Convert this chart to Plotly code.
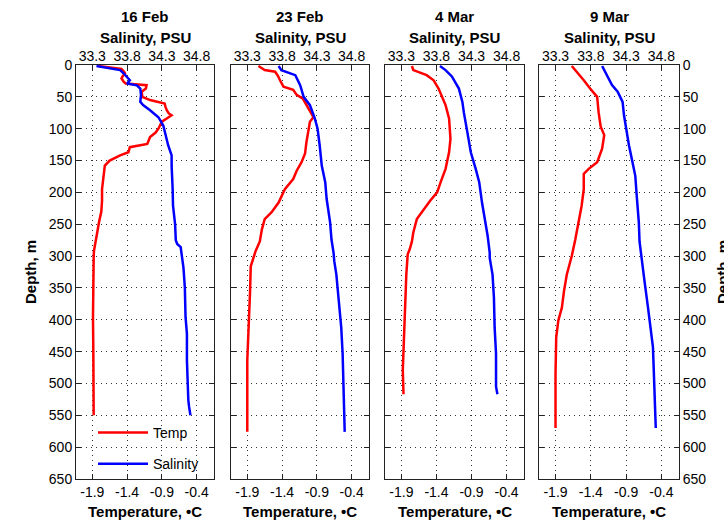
import plotly.graph_objects as go

dates = ["16 Feb", "23 Feb", "4 Mar", "9 Mar"]
temp_ticks = [-1.9, -1.4, -0.9, -0.4]
sal_ticks = [33.3, 33.8, 34.3, 34.8]
depth_ticks = list(range(0, 651, 50))

# 16 Feb
feb16_temp_depth = [1.6, 4, 6.3, 10, 13, 17, 21, 26, 29, 31.6, 36.8, 42, 47, 50, 55, 60.5, 65, 71, 76, 79, 84, 89,
                    100, 106, 113, 124, 129, 137, 142, 150, 158, 174, 195, 213, 230, 245, 265, 292, 302, 350, 396,
                    450, 500, 550]
feb16_temp = [-1.81, -1.60, -1.48, -1.45, -1.43, -1.46, -1.48, -1.45, -1.42, -1.12, -1.13, -1.19, -1.19, -1.18,
              -1.07, -0.86, -0.85, -0.83, -0.80, -0.76, -0.83, -0.90, -0.95, -0.99, -1.07, -1.11, -1.36, -1.38,
              -1.50, -1.65, -1.72, -1.74, -1.76, -1.76, -1.77, -1.80, -1.83, -1.876, -1.88, -1.89, -1.89, -1.885,
              -1.88, -1.88]
feb16_sal_depth = [1.6, 4, 8, 13, 18, 24, 29, 32, 37, 47, 58, 63, 71, 82, 95, 105, 126, 142, 158, 195, 221, 250,
                   275, 281, 286, 318, 349, 396, 422, 464, 505, 526, 536, 547, 550]
feb16_sal = [33.36, 33.51, 33.70, 33.75, 33.79, 33.84, 33.80, 33.94, 33.99, 34.00, 33.99, 34.03, 34.13, 34.25,
             34.32, 34.34, 34.39, 34.44, 34.44, 34.455, 34.46, 34.49, 34.50, 34.52, 34.57, 34.61, 34.63, 34.64,
             34.66, 34.66, 34.67, 34.68, 34.69, 34.71, 34.71]

# 23 Feb
feb23_temp_depth = [1.6, 8, 10.5, 17, 24, 34, 39, 47, 53, 63, 74, 82, 89, 100, 121, 139, 152.5, 166, 179, 195, 205,
                    216, 231, 242, 258, 277, 292, 303, 316, 355, 407, 464, 576]
feb23_temp = [-1.74, -1.65, -1.50, -1.46, -1.43, -1.38, -1.24, -1.19, -1.10, -1.05, -1.00, -0.95, -1.00, -1.02,
              -1.05, -1.07, -1.12, -1.19, -1.24, -1.36, -1.40, -1.45, -1.55, -1.65, -1.69, -1.72, -1.78, -1.81,
              -1.85, -1.86, -1.88, -1.90, -1.90]
feb23_sal_depth = [1.6, 8, 16, 24, 31.6, 50, 63, 84, 100, 126, 158, 184, 210, 247, 274, 295, 308, 329, 365, 412,
                   453, 495, 526, 576]
feb23_sal = [33.75, 33.79, 33.99, 34.03, 34.06, 34.11, 34.20, 34.27, 34.31, 34.34, 34.37, 34.42, 34.44, 34.49,
             34.51, 34.54, 34.55, 34.58, 34.61, 34.65, 34.67, 34.68, 34.69, 34.70]

# 4 Mar
mar4_temp_depth = [1.6, 8, 16, 24, 37, 50, 63, 84, 116, 137, 163, 184, 200, 213, 226, 242, 263, 277, 289, 297, 329,
                   381, 433, 479, 517]
mar4_temp = [-1.75, -1.73, -1.54, -1.44, -1.37, -1.32, -1.27, -1.22, -1.20, -1.22, -1.27, -1.34, -1.39, -1.49,
             -1.58, -1.68, -1.73, -1.75, -1.78, -1.81, -1.83, -1.85, -1.86, -1.88, -1.87]
mar4_sal_depth = [1.6, 8, 18, 37, 58, 74, 105, 137, 163, 184, 216, 247, 268, 295, 303, 329, 365, 412, 453, 505, 517]
mar4_sal = [33.85, 33.93, 34.02, 34.12, 34.17, 34.19, 34.24, 34.29, 34.36, 34.41, 34.45, 34.50, 34.53, 34.56,
            34.56, 34.60, 34.62, 34.63, 34.65, 34.65, 34.67]

# 9 Mar
mar9_temp_depth = [1.6, 10.5, 24, 37, 50, 74, 97, 110, 131.5, 152.5, 163, 171, 195, 221, 247, 274, 300, 329, 355,
                   381, 401, 427, 485, 570]
mar9_temp = [-1.67, -1.60, -1.50, -1.41, -1.31, -1.29, -1.26, -1.21, -1.24, -1.31, -1.43, -1.50, -1.50, -1.53,
             -1.57, -1.62, -1.67, -1.74, -1.78, -1.81, -1.86, -1.89, -1.90, -1.90]
mar9_sal_depth = [1.6, 16, 31.6, 42, 58, 79, 100, 126, 152.5, 174, 205, 247, 277, 308, 339, 381, 412, 443, 474, 505,
                  542, 570]
mar9_sal = [33.96, 34.03, 34.10, 34.18, 34.25, 34.27, 34.30, 34.34, 34.39, 34.43, 34.45, 34.48, 34.49, 34.53,
            34.56, 34.61, 34.64, 34.68, 34.69, 34.70, 34.72, 34.72]

temp_sets = [(feb16_temp_depth, feb16_temp), (feb23_temp_depth, feb23_temp),
             (mar4_temp_depth, mar4_temp), (mar9_temp_depth, mar9_temp)]
sal_sets = [(feb16_sal_depth, feb16_sal), (feb23_sal_depth, feb23_sal),
            (mar4_sal_depth, mar4_sal), (mar9_sal_depth, mar9_sal)]

W, H = 724, 522
ML, MR, MT, MB = 76, 45, 65, 43
PW = W - ML - MR
PH = H - MT - MB
panel_px = [(76, 214), (231, 369), (385, 524), (539, 679)]
temp_range = [-2.134, -0.151]
sal_offset = 35.2
sal_range = [temp_range[0] + sal_offset, temp_range[1] + sal_offset]

FONT = "Liberation Sans, Arial, sans-serif"
AX = "#222222"
GRID = "#333333"

fig = go.Figure()
layout = dict(
    width=W, height=H,
    margin=dict(l=ML, r=MR, t=MT, b=MB, pad=0),
    paper_bgcolor="white", plot_bgcolor="white",
    font=dict(family=FONT, size=13, color="black"),
    showlegend=True,
    legend=dict(x=(93 - ML) / PW, y=(MT + PH - 417) / PH, xanchor="left", yanchor="top",
                bgcolor="rgba(0,0,0,0)", borderwidth=0, font=dict(size=14, family=FONT),
                itemwidth=50, traceorder="grouped", tracegroupgap=10),
)
annotations = []
for i in range(4):
    n = i + 1
    sx = "" if n == 1 else str(n)
    d0 = (panel_px[i][0] - ML) / PW
    d1 = (panel_px[i][1] - ML) / PW
    tdepth, tvals = temp_sets[i]
    sdepth, svals = sal_sets[i]
    fig.add_trace(go.Scatter(x=tvals, y=tdepth, mode="lines", name="Temp",
                             line=dict(color="#ff0000", width=2.5), xaxis="x" + sx, yaxis="y" + sx,
                             showlegend=(i == 0), legendgroup="t"))
    fig.add_trace(go.Scatter(x=svals, y=sdepth, mode="lines", name="Salinity",
                             line=dict(color="#0000ff", width=2.5), xaxis="x" + str(n + 4), yaxis="y" + sx,
                             showlegend=(i == 0), legendgroup="s"))
    layout["xaxis" + sx] = dict(
        domain=[d0, d1], anchor="y" + sx, range=temp_range, side="bottom",
        tickvals=temp_ticks, ticktext=[f"{v:.1f}" for v in temp_ticks],
        ticks="inside", ticklen=5, tickcolor=AX, mirror="ticks",
        showline=True, linecolor=AX, linewidth=1,
        showgrid=True, gridcolor=GRID, gridwidth=1, griddash="1px,4px",
        zeroline=False, tickfont=dict(size=14), fixedrange=True,
    )
    layout["xaxis" + str(n + 4)] = dict(
        overlaying="x" + sx, anchor="y" + sx, range=sal_range, side="top",
        tickvals=sal_ticks, ticktext=[f"{v:.1f}" for v in sal_ticks],
        ticks="", showgrid=False, zeroline=False, showline=False,
        tickfont=dict(size=14), fixedrange=True,
    )
    layout["yaxis" + sx] = dict(
        domain=[0, 1], anchor="x" + sx, range=[650, 0],
        tickvals=depth_ticks, ticks="inside", ticklen=5, tickcolor=AX, mirror="ticks",
        showline=True, linecolor=AX, linewidth=1,
        showgrid=True, gridcolor=GRID, gridwidth=1, griddash="1px,4px",
        zeroline=False, tickfont=dict(size=14), fixedrange=True,
        showticklabels=(i in (0, 3)), side=("right" if i == 3 else "left"),
    )
    cx = ((panel_px[i][0] + panel_px[i][1]) / 2 - ML) / PW
    annotations.append(dict(text="<b>" + dates[i] + "</b>", x=cx, y=1 + (MT - 17) / PH, xref="paper",
                            yref="paper", showarrow=False, xanchor="center", yanchor="middle",
                            font=dict(size=15)))
    annotations.append(dict(text="<b>Salinity, PSU</b>", x=cx, y=1 + (MT - 38) / PH, xref="paper",
                            yref="paper", showarrow=False, xanchor="center", yanchor="middle",
                            font=dict(size=15)))
    annotations.append(dict(text="<b>Temperature, •C</b>", x=cx, y=-(512 - (MT + PH)) / PH, xref="paper",
                            yref="paper", showarrow=False, xanchor="center", yanchor="middle",
                            font=dict(size=15)))

annotations.append(dict(text="<b>Depth, m</b>", x=(30 - ML) / PW, y=0.5, xref="paper", yref="paper",
                        showarrow=False, textangle=-90, xanchor="center", yanchor="middle", font=dict(size=15)))
annotations.append(dict(text="<b>Depth, m</b>", x=(722 - ML) / PW, y=0.5, xref="paper", yref="paper",
                        showarrow=False, textangle=-90, xanchor="center", yanchor="middle", font=dict(size=15)))
layout["annotations"] = annotations
fig.update_layout(**layout)
fig.write_html("out.html", config={"displayModeBar": False},
               post_script="document.body.style.margin='0';document.body.style.overflow='hidden';")
